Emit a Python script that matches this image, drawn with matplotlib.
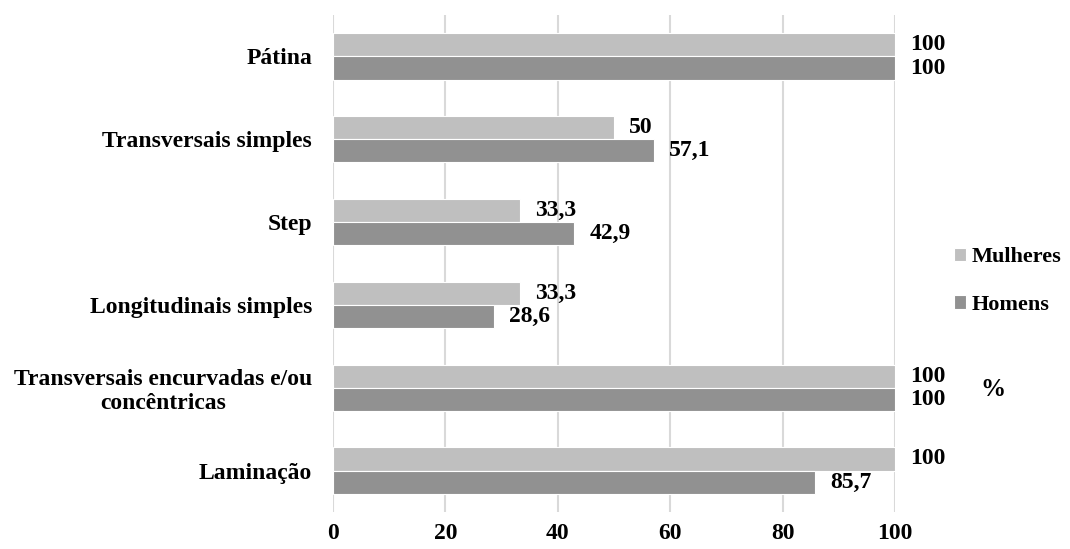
import matplotlib.pyplot as plt
import numpy as np

categories = ["Pátina", "Transversais simples", "Step", "Longitudinais simples",
              "Transversais encurvadas e/ou\nconcêntricas", "Laminação"]
mulheres = [100, 50, 33.3, 33.3, 100, 100]
homens = [100, 57.1, 42.9, 28.6, 100, 85.7]
xticks = [0, 20, 40, 60, 80, 100]

plt.rcParams['font.family'] = ['Liberation Serif', 'DejaVu Serif']
plt.rcParams['font.weight'] = 'bold'

FS = 17

fig = plt.figure(figsize=(10.70, 5.49), dpi=100)
ax = fig.add_axes([333 / 1070, 1 - 512 / 549, (895 - 333) / 1070, (512 - 15) / 549])

y = np.arange(len(categories))
h = 0.28
c_m = '#BFBFBF'
c_h = '#919191'

ax.barh(y - h / 2, mulheres, height=h, color=c_m, edgecolor='white', linewidth=0.8,
        label='Mulheres', zorder=3)
ax.barh(y + h / 2, homens, height=h, color=c_h, edgecolor='white', linewidth=0.8,
        label='Homens', zorder=3)


def fmt(v):
    s = f"{v:g}"
    return s.replace('.', ',')


for yi, v in zip(y, mulheres):
    ax.annotate(fmt(v), (v, yi - h / 2), xytext=(11, 0), textcoords='offset points',
                va='center', ha='left', fontsize=FS, fontweight='bold', annotation_clip=False)
for yi, v in zip(y, homens):
    ax.annotate(fmt(v), (v, yi + h / 2), xytext=(11, 0), textcoords='offset points',
                va='center', ha='left', fontsize=FS, fontweight='bold', annotation_clip=False)

ax.set_xlim(0, 100)
ax.set_ylim(len(categories) - 0.5, -0.5)
ax.set_xticks(xticks)
ax.set_xticklabels([str(t) for t in xticks], fontsize=FS, fontweight='bold')
ax.set_yticks(y)
ax.set_yticklabels(categories, fontsize=FS, fontweight='bold', ha='right')
for lbl in ax.get_yticklabels():
    lbl.set_multialignment('center')
ax.tick_params(axis='y', length=0, pad=15)
ax.tick_params(axis='x', length=0, pad=8)
ax.grid(axis='x', color='#D9D9D9', linewidth=1.5, zorder=0)
for s in ax.spines.values():
    s.set_visible(False)

handles, labels = ax.get_legend_handles_labels()
leg = fig.legend(handles, labels, loc='center left', bbox_to_anchor=(938 / 1070, 1 - 281 / 549),
                 frameon=False, prop={'size': 16, 'weight': 'bold'},
                 handlelength=0.55, handleheight=0.55, handletextpad=0.25, labelspacing=1.25,
                 borderpad=0.2)

fig.text(993 / 1070, 1 - 390 / 549, '%', fontsize=FS + 1, fontweight='bold', ha='center', va='center')

fig.savefig('out.png', dpi=100)
